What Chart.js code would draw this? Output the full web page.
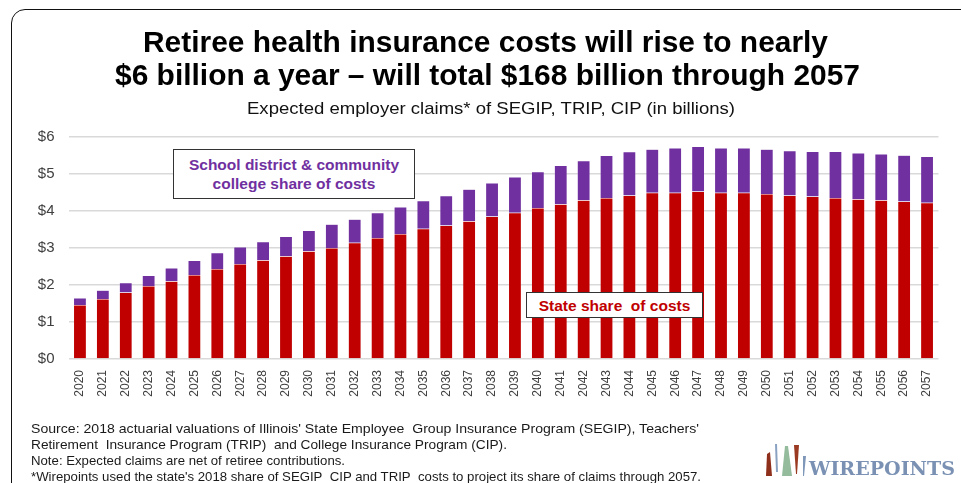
<!DOCTYPE html>
<html>
<head>
<meta charset="utf-8">
<script src="https://cdn.jsdelivr.net/npm/chart.js@4.4.1/dist/chart.umd.min.js"></script>
<style>
  html, body { margin:0; padding:0; background:#fff; }
  body { width:961px; height:483px; position:relative; overflow:hidden; font-family: Arial, "Liberation Sans", sans-serif; }
  #frame { position:absolute; left:11px; top:9px; width:970px; height:490px; border:1.5px solid #111; border-radius:14px; box-sizing:border-box; }
  #c { position:absolute; left:0; top:0; }
  .t { position:absolute; white-space:nowrap; transform-origin:left center; line-height:1; }
  .title { font-weight:bold; font-size:29px; color:#000; }
  .sub { font-size:17px; color:#111; }
  .note { font-size:13.5px; color:#1a1a1a; }
  .box { position:absolute; background:#fff; border:1.5px solid #333; box-sizing:border-box; text-align:center; font-weight:bold; font-size:15.5px; line-height:19px; }
  #logo { position:absolute; left:760px; top:440px; }
</style>
</head>
<body>
<div id="frame"></div>
<canvas id="c" width="961" height="483"></canvas>

<div class="t title" data-x="143" data-y="42" data-w="685">Retiree health insurance costs will rise to nearly</div>
<div class="t title" data-x="115" data-y="75" data-w="745">$6 billion a year – will total $168 billion through 2057</div>
<div class="t sub" data-x="247" data-y="108" data-w="488">Expected employer claims* of SEGIP, TRIP, CIP (in billions)</div>

<div class="box" style="left:173px;top:149px;width:242px;height:50px;color:#7030A0;padding-top:5px;">School district &amp; community<br>college share of costs</div>
<div class="box" style="left:526px;top:292px;width:177px;height:26px;color:#C00000;padding-top:3px;">State share&nbsp; of costs</div>

<div class="t note" data-x="31" data-y="429" data-w="668">Source: 2018 actuarial valuations of Illinois' State Employee&nbsp; Group Insurance Program (SEGIP), Teachers'</div>
<div class="t note" data-x="31" data-y="445" data-w="476">Retirement&nbsp; Insurance Program (TRIP)&nbsp; and College Insurance Program (CIP).</div>
<div class="t note" data-x="31" data-y="461" data-w="314">Note: Expected claims are net of retiree contributions.</div>
<div class="t note" data-x="31" data-y="477" data-w="670">*Wirepoints used the state's 2018 share of SEGIP&nbsp; CIP and TRIP&nbsp; costs to project its share of claims through 2057.</div>

<svg id="logo" width="200" height="40" viewBox="0 0 200 40">
  <polygon points="7,14 10,12 12,36 6,36" fill="#8e2f1c"/>
  <polygon points="15,4 17,4 18,32 16,32" fill="#8aa2c2"/>
  <polygon points="25,6 28,6 32,36 22,36" fill="#93bb9c"/>
  <polygon points="34,5 39,5 37,34 36,34" fill="#9a3a22"/>
  <polygon points="43,16 46,16 44,36 43,36" fill="#7f97b8"/>
  <text x="49" y="35" font-family="'DejaVu Serif', 'Liberation Serif', serif" font-weight="bold" font-size="19" fill="#7a91b3" textLength="146" lengthAdjust="spacingAndGlyphs">WIREPOINTS</text>
</svg>

<script>
const years = ["2020","2021","2022","2023","2024","2025","2026","2027","2028","2029","2030","2031","2032","2033","2034","2035","2036","2037","2038","2039","2040","2041","2042","2043","2044","2045","2046","2047","2048","2049","2050","2051","2052","2053","2054","2055","2056","2057"];
const stateShare = [1.46,1.62,1.80,1.97,2.10,2.27,2.43,2.57,2.67,2.78,2.91,3.00,3.14,3.27,3.38,3.52,3.61,3.72,3.85,3.95,4.08,4.18,4.29,4.35,4.42,4.49,4.49,4.53,4.49,4.49,4.46,4.42,4.39,4.35,4.32,4.29,4.26,4.22];
const districtShare = [0.19,0.24,0.26,0.29,0.36,0.39,0.44,0.46,0.50,0.53,0.56,0.64,0.64,0.68,0.73,0.76,0.80,0.87,0.91,0.97,0.98,1.05,1.07,1.15,1.18,1.18,1.21,1.21,1.21,1.21,1.21,1.21,1.22,1.26,1.25,1.25,1.25,1.25];
const yTicks = [0,1,2,3,4,5,6];

// fit text lines
document.querySelectorAll('.t').forEach(el => {
  const r = el.getBoundingClientRect();
  const target = +el.dataset.w;
  el.style.left = el.dataset.x + 'px';
  el.style.top = (+el.dataset.y - r.height/2) + 'px';
  el.style.transform = 'scaleX(' + (target / r.width) + ')';
});

new Chart(document.getElementById('c'), {
  type: 'bar',
  data: {
    labels: years,
    datasets: [
      { label: 'State share of costs', data: stateShare, backgroundColor: '#C00000', borderColor: 'rgba(255,255,255,0.35)', borderWidth: 0.5, barPercentage: 0.56, categoryPercentage: 1 },
      { label: 'School district & community college share of costs', data: districtShare, backgroundColor: '#7030A0', borderColor: 'rgba(255,255,255,0.35)', borderWidth: 0.5, barPercentage: 0.56, categoryPercentage: 1 }
    ]
  },
  options: {
    responsive: false,
    animation: false,
    layout: { padding: { top: 137, right: 22.5, left: 0, bottom: 0 } },
    plugins: { legend: { display: false }, tooltip: { enabled: false }, title: { display: false } },
    scales: {
      x: {
        stacked: true,
        grid: { display: false },
        border: { display: false },
        ticks: { minRotation: 90, maxRotation: 90, autoSkip: false, padding: 3, color: '#404040', font: { family: 'Arial, "Liberation Sans"', size: 12 } },
        afterFit: s => { s.height = 124; }
      },
      y: {
        stacked: true,
        min: 0, max: 6,
        afterBuildTicks: s => { s.ticks = yTicks.map(v => ({ value: v })); },
        grid: { color: '#d9d9d9', lineWidth: 1.5, drawTicks: false },
        border: { display: false },
        ticks: { padding: 14, color: '#404040', font: { family: 'Arial, "Liberation Sans"', size: 15 }, callback: v => '$' + v },
        afterFit: s => { s.width = 68.5; }
      }
    }
  }
});
</script>
</body>
</html>
